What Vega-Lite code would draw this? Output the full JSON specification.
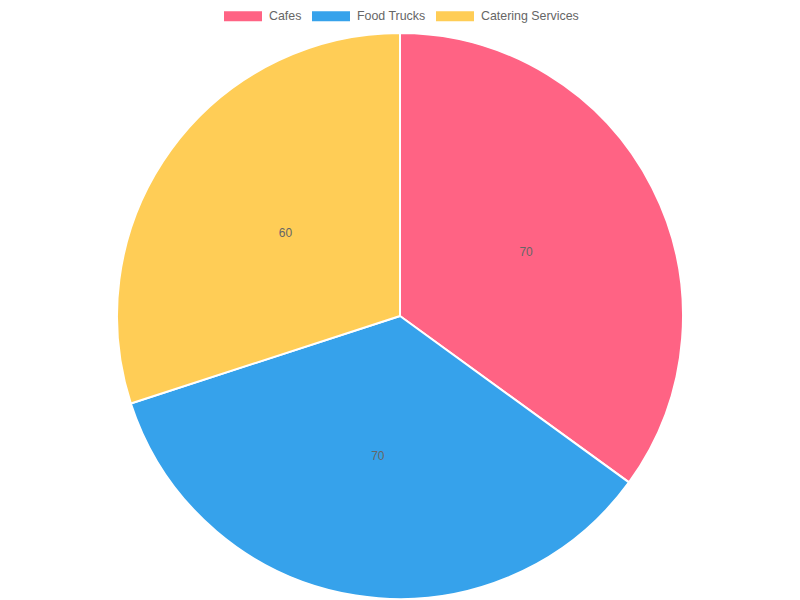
{
  "$schema": "https://vega.github.io/schema/vega-lite/v6.json",
  "width": 800,
  "height": 568,
  "autosize": {"type": "none"},
  "padding": {"top": 32, "left": 0, "right": 0, "bottom": 0},
  "background": "white",
  "config": {"view": {"stroke": null}, "font": "Liberation Sans"},
  "data": {
    "values": [
      {"category": "Cafes", "value": 70, "idx": 0},
      {"category": "Food Trucks", "value": 70, "idx": 1},
      {"category": "Catering Services", "value": 60, "idx": 2}
    ]
  },
  "encoding": {
    "theta": {"field": "value", "type": "quantitative", "stack": true},
    "order": {"field": "idx", "type": "quantitative"}
  },
  "layer": [
    {
      "mark": {"type": "arc", "outerRadius": 283, "stroke": "white", "strokeWidth": 2},
      "encoding": {
        "color": {
          "field": "category",
          "type": "nominal",
          "scale": {
            "domain": ["Cafes", "Food Trucks", "Catering Services"],
            "range": ["#FF6384", "#36A2EB", "#FFCD56"]
          },
          "legend": {
            "orient": "none",
            "legendX": 224,
            "legendY": -35,
            "direction": "horizontal",
            "title": null,
            "symbolType": "M-1,-0.263H1V0.263H-1Z",
            "symbolSize": 1444,
            "symbolStrokeWidth": 0,
            "labelFont": "Liberation Sans",
            "labelFontSize": 12.4,
            "labelColor": "#666666",
            "labelOffset": 7,
            "columnPadding": 10
          }
        }
      }
    },
    {
      "mark": {"type": "text", "radius": 141.5, "fontSize": 12, "color": "#666666", "font": "Liberation Sans"},
      "encoding": {
        "text": {"field": "value", "type": "quantitative"}
      }
    }
  ]
}
